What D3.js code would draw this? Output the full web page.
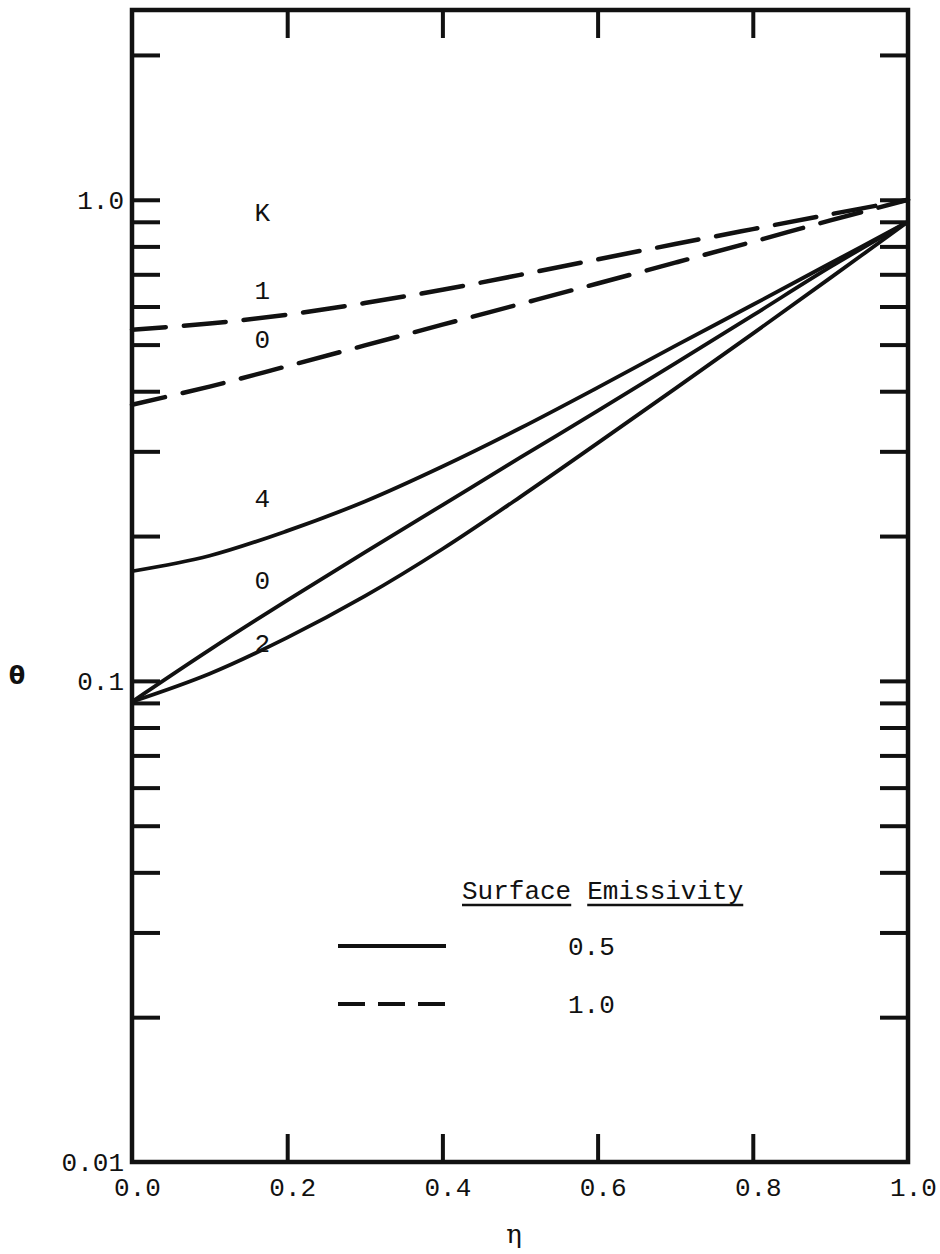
<!DOCTYPE html>
<html>
<head>
<meta charset="utf-8">
<script src="https://cdn.jsdelivr.net/npm/d3@7"></script>
<style>
  html, body { margin: 0; padding: 0; background: #fff; }
  svg { display: block; }
  text { font-family: "Liberation Mono", "DejaVu Sans Mono", monospace; fill: #111; }
</style>
</head>
<body>
<svg id="chart" width="940" height="1254"></svg>
<script>
// Dimensionless position across the slab
const eta = [0, 0.1, 0.2, 0.3, 0.4, 0.5, 0.6, 0.7, 0.8, 0.9, 1.0];

// Dimensionless temperature, surface emissivity 0.5
const thetaE05K4 = [0.169, 0.182, 0.205, 0.236, 0.279, 0.335, 0.407, 0.497, 0.605, 0.738, 0.90];
const thetaE05K0 = [0.0905, 0.116, 0.147, 0.185, 0.232, 0.291, 0.364, 0.457, 0.575, 0.725, 0.90];
const thetaE05K2 = [0.0905, 0.1035, 0.123, 0.150, 0.188, 0.241, 0.312, 0.405, 0.527, 0.688, 0.90];

// Dimensionless temperature, surface emissivity 1.0
const thetaE10K1 = [0.537, 0.553, 0.577, 0.610, 0.650, 0.698, 0.752, 0.809, 0.869, 0.933, 1.0];
const thetaE10K0 = [0.375, 0.409, 0.451, 0.498, 0.550, 0.607, 0.670, 0.740, 0.818, 0.906, 1.0];

// Axis ticks
const xTicks = [0, 0.2, 0.4, 0.6, 0.8, 1.0];
const xTickLabels = ["0.0", "0.2", "0.4", "0.6", "0.8", "1.0"];
const yTicks = [2, 1, 0.9, 0.8, 0.7, 0.6, 0.5, 0.4, 0.3, 0.2,
                0.1, 0.09, 0.08, 0.07, 0.06, 0.05, 0.04, 0.03, 0.02, 0.01];
const yLabelled = [1, 0.1, 0.01];
const yTickLabels = ["1.0", "0.1", "0.01"];

// Curve labels (K values) and legend entries
const curveLabels = [
  { text: "K", eta: 0.168, theta: 0.945 },
  { text: "1", eta: 0.168, theta: 0.650 },
  { text: "0", eta: 0.168, theta: 0.514 },
  { text: "4", eta: 0.168, theta: 0.240 },
  { text: "0", eta: 0.168, theta: 0.162 },
  { text: "2", eta: 0.168, theta: 0.120 }
];
const legendTitle = ["Surface", "Emissivity"];
const legendItems = [
  { label: "0.5", dashed: false },
  { label: "1.0", dashed: true }
];

const series = [
  { values: thetaE10K1, dashed: true },
  { values: thetaE10K0, dashed: true },
  { values: thetaE05K4, dashed: false },
  { values: thetaE05K0, dashed: false },
  { values: thetaE05K2, dashed: false }
];

const svg = d3.select("#chart");
const plot = { left: 132, right: 908, top: 10, bottom: 1162 };

const x = d3.scaleLinear().domain([0, 1]).range([plot.left, plot.right]);
const y = d3.scaleLog().domain([0.01, 2.48]).range([plot.bottom, plot.top]);

const ink = "#111";

// Curves
const line = d3.line()
  .x((d, i) => x(eta[i]))
  .y(d => y(d))
  .curve(d3.curveCatmullRom.alpha(0.5));

svg.append("g").selectAll("path")
  .data(series)
  .join("path")
  .attr("d", d => line(d.values))
  .attr("fill", "none")
  .attr("stroke", ink)
  .attr("stroke-width", d => d.dashed ? 4.5 : 3.8)
  .attr("stroke-linecap", d => d.dashed ? "round" : "butt")
  .attr("stroke-dasharray", d => d.dashed ? "42 18" : null)
  .attr("stroke-dashoffset", d => d.dashed ? 8 : null);

// Axes: ticks point inward on all four sides
const tickLen = 28;
const fmtY = v => {
  const i = yLabelled.findIndex(t => Math.abs(t - v) < 1e-9);
  return i >= 0 ? yTickLabels[i] : "";
};
const fmtX = v => xTickLabels[xTicks.findIndex(t => Math.abs(t - v) < 1e-9)];

const yLeft = svg.append("g").attr("transform", `translate(${plot.left},0)`)
  .call(d3.axisLeft(y).tickValues(yTicks).tickFormat(fmtY).tickSize(-tickLen).tickPadding(6));
const yRight = svg.append("g").attr("transform", `translate(${plot.right},0)`)
  .call(d3.axisRight(y).tickValues(yTicks).tickFormat("").tickSize(-tickLen));
const xBottom = svg.append("g").attr("transform", `translate(0,${plot.bottom})`)
  .call(d3.axisBottom(x).tickValues(xTicks).tickFormat(fmtX).tickSize(-tickLen).tickPadding(16));
const xTop = svg.append("g").attr("transform", `translate(0,${plot.top})`)
  .call(d3.axisTop(x).tickValues(xTicks.slice(1, -1)).tickFormat("").tickSize(-tickLen));

[yLeft, yRight, xBottom, xTop].forEach(g => {
  g.select(".domain").remove();
  g.selectAll(".tick line").attr("stroke", ink).attr("stroke-width", 4);
  g.selectAll(".tick text").attr("fill", ink).style("font-size", "26px");
});
xBottom.selectAll(".tick").filter(d => d === 0 || d === 1).select("line").remove();
yLeft.selectAll(".tick").filter(d => d === 0.01).select("line").remove();
yRight.selectAll(".tick").filter(d => d === 0.01).select("line").remove();
xBottom.selectAll(".tick text").attr("dx", 5);
yLeft.selectAll(".tick text").attr("dx", -2);

// Frame
svg.append("rect")
  .attr("x", plot.left).attr("y", plot.top)
  .attr("width", plot.right - plot.left).attr("height", plot.bottom - plot.top)
  .attr("fill", "none").attr("stroke", ink).attr("stroke-width", 4.5);

// Axis titles
svg.append("text").attr("x", 17).attr("y", 676).attr("dy", "0.35em")
  .attr("text-anchor", "middle")
  .style("font-size", "24px").style("font-family", "DejaVu Sans, sans-serif")
  .style("font-weight", "bold").text("θ");
svg.append("text").attr("x", 514).attr("y", 1243)
  .attr("text-anchor", "middle")
  .style("font-size", "26px").style("font-family", "DejaVu Serif, serif").text("η");

// Curve labels
svg.append("g").selectAll("text")
  .data(curveLabels)
  .join("text")
  .attr("x", d => x(d.eta))
  .attr("y", d => y(d.theta))
  .attr("dy", "0.35em")
  .attr("text-anchor", "middle")
  .style("font-size", "26px")
  .text(d => d.text);

// Legend
const lg = svg.append("g");
const titleX = 462, titleY = 899;
let cursor = titleX;
legendTitle.forEach(w => {
  const t = lg.append("text").attr("x", cursor).attr("y", titleY)
    .style("font-size", "26px").text(w);
  const wLen = t.node().getComputedTextLength();
  lg.append("line")
    .attr("x1", cursor).attr("x2", cursor + wLen)
    .attr("y1", titleY + 6).attr("y2", titleY + 6)
    .attr("stroke", ink).attr("stroke-width", 2.5);
  cursor += wLen + 16;
});
legendItems.forEach((d, i) => {
  const ly = 946 + i * 58;
  lg.append("line")
    .attr("x1", 338).attr("x2", 446)
    .attr("y1", ly).attr("y2", ly)
    .attr("stroke", ink).attr("stroke-width", 4)
    .attr("stroke-dasharray", d.dashed ? "27 13" : null);
  lg.append("text").attr("x", 568).attr("y", ly).attr("dy", "0.35em")
    .style("font-size", "26px").text(d.label);
});
</script>
</body>
</html>
